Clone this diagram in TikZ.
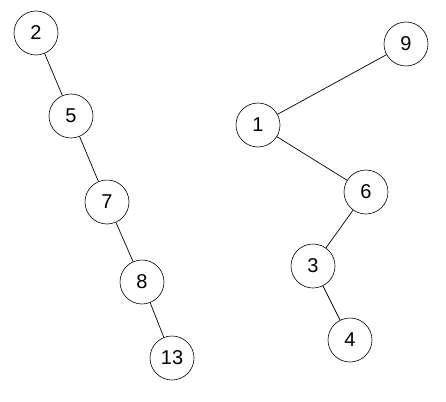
\documentclass[tikz,border=0pt]{standalone}
\usepackage{fontspec}
\setmainfont{Liberation Sans}
\usetikzlibrary{positioning}

\begin{document}
\begin{tikzpicture}[
  x=1pt, y=-1pt,
  key/.style={draw, circle, minimum size=44pt, inner sep=0pt,
              line width=0.6pt, font=\fontsize{20}{22}\selectfont},
  edge/.style={line width=0.7pt},
]
\useasboundingbox (0,0) rectangle (446,401);

%% left tree: 2 -> 5 -> 7 -> 8 -> 13
\node[key] (k2)  at (36,33)   {2};
\node[key] (k5)  at (71,116)  {5};
\node[key] (k7)  at (107,202) {7};
\node[key] (k8)  at (142,282) {8};
\node[key] (k13) at (172,358) {13};

%% right tree
\node[key] (k9) at (406,44)  {9};
\node[key] (k1) at (258,125) {1};
\node[key] (k6) at (366,192) {6};
\node[key] (k3) at (313,266) {3};
\node[key] (k4) at (350,340) {4};

\draw[edge] (k2) -- (k5);
\draw[edge] (k5) -- (k7);
\draw[edge] (k7) -- (k8);
\draw[edge] (k8) -- (k13);

\draw[edge] (k9) -- (k1);
\draw[edge] (k1) -- (k6);
\draw[edge] (k6) -- (k3);
\draw[edge] (k3) -- (k4);
\end{tikzpicture}
\end{document}
